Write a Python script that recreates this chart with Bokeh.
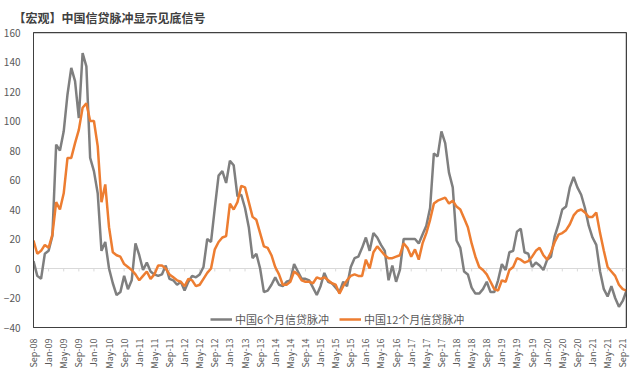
import math
from bokeh.plotting import figure
from bokeh.models import Range1d, FixedTicker, Span, Legend, LegendItem
from bokeh.embed import file_html
from bokeh.resources import INLINE

title_text = "【宏观】中国信贷脉冲显示见底信号"
series_names = ["中国6个月信贷脉冲", "中国12个月信贷脉冲"]

# monthly index: 0 = Sep-08 ... 157 = Oct-21
credit_6m = [
    5, -5, -7, 10, 12, 22, 84, 80, 93, 118, 136, 127, 102, 146, 137, 75, 66, 51, 12, 18,
    0, -10, -18, -16, -5, -14, -8, 17, 9, -1, 4, -2, -4, -5, -4, 2, -7, -8, -11, -9,
    -15, -9, -5, -6, -4, 1, 20, 18, 41, 63, 66, 58, 73, 70, 49, 50, 41, 28, 7, 10,
    0, -16, -15, -11, -6, -11, -12, -9, -8, 3, -2, -7, -7, -8, -13, -18, -12, -3, -9, -10,
    -13, -16, -9, -12, 1, 7, 8, 14, 21, 12, 24, 21, 16, 12, -8, 2, -9, -1, 20, 20,
    20, 20, 17, 23, 29, 41, 78, 76, 93, 85, 65, 55, 19, 14, -2, -4, -13, -17, -17, -14,
    -9, -16, -16, -8, 3, -1, 11, 12, 25, 27, 11, 10, 1, 4, 2, -1, 6, 8, 22, 30,
    40, 42, 55, 62, 55, 50, 41, 29, 21, 16, -2, -14, -19, -12, -20, -26, -22, -15,
]
credit_12m = [
    19, 10, 12, 16, 14, 23, 45, 40, 51, 75, 75, 85, 94, 109, 112, 100, 100, 83, 45, 57,
    28, 11, 9, 8, 3, 1, -1, -4, -8, -5, -2, -7, -4, 2, 2, 0, -4, -6, -8, -9,
    -12, -7, -8, -12, -11, -7, -3, 0, 13, 18, 21, 22, 44, 40, 45, 56, 55, 45, 35, 33,
    24, 15, 14, 9, 1, -4, -11, -11, -9, -2, -4, -8, -9, -9, -10, -6, -7, -6, -8, -10,
    -11, -17, -12, -8, -5, -4, -5, -5, 6, 0, 11, 15, 12, 9, 7, 7, 8, 9, 17, 14,
    8, 13, 6, 17, 24, 33, 44, 46, 47, 48, 44, 46, 42, 40, 34, 28, 17, 8, 1, -1,
    -4, -9, -14, -15, -8, -9, -1, 1, 7, 6, 4, 5, 8, 12, 14, 9, 6, 11, 18, 23,
    24, 26, 30, 36, 39, 40, 38, 35, 35, 38, 24, 12, 1, -2, -5, -11, -14, -15,
]
tick_labels = [
    "Sep-08",
    "Jan-09", "May-09", "Sep-09", "Jan-10", "May-10", "Sep-10",
    "Jan-11", "May-11", "Sep-11", "Jan-12", "May-12", "Sep-12",
    "Jan-13", "May-13", "Sep-13", "Jan-14", "May-14", "Sep-14",
    "Jan-15", "May-15", "Sep-15", "Jan-16", "May-16", "Sep-16",
    "Jan-17", "May-17", "Sep-17", "Jan-18", "May-18", "Sep-18",
    "Jan-19", "May-19", "Sep-19", "Jan-20", "May-20", "Sep-20",
    "Jan-21", "May-21", "Sep-21",
]
y_ticks = [-40, -20, 0, 20, 40, 60, 80, 100, 120, 140, 160]

months = list(range(len(credit_6m)))
tick_pos = [4 * k for k in range(len(tick_labels))]

FONT = "Noto Sans CJK SC"
TXT = "#595959"
FRAME = "#404040"

p = figure(frame_width=593, frame_height=295,
           min_border_left=26, min_border_right=5, min_border_top=24, min_border_bottom=38,
           x_range=Range1d(0, len(months) - 1), y_range=Range1d(y_ticks[0], y_ticks[-1]),
           output_backend="svg", toolbar_location=None, title=title_text)

p.title.text_font = FONT
p.title.text_font_size = "12px"
p.title.text_font_style = "bold"
p.title.text_color = "#404040"
p.title.offset = -20
p.title.standoff = 13

p.outline_line_color = FRAME
p.outline_line_alpha = 1.0
p.outline_line_width = 1
p.xgrid.visible = False
p.ygrid.visible = False
p.background_fill_color = "white"
p.border_fill_color = "white"

p.yaxis.ticker = FixedTicker(ticks=y_ticks)
p.yaxis.axis_line_color = FRAME
p.yaxis.major_tick_line_color = None
p.yaxis.minor_tick_line_color = None
p.yaxis.major_label_text_font = FONT
p.yaxis.major_label_text_font_size = "10px"
p.yaxis.major_label_text_color = TXT
p.yaxis.major_label_standoff = 7

p.xaxis.ticker = FixedTicker(ticks=tick_pos)
p.xaxis.major_label_overrides = {t: l for t, l in zip(tick_pos, tick_labels)}
p.xaxis.major_label_orientation = math.pi / 2
p.xaxis.axis_line_color = FRAME
p.xaxis.major_tick_line_color = None
p.xaxis.minor_tick_line_color = None
p.xaxis.major_label_text_font = FONT
p.xaxis.major_label_text_font_size = "9px"
p.xaxis.major_label_text_color = TXT
p.xaxis.major_label_standoff = 5

# frame edges (top and right)
p.add_layout(Span(location=y_ticks[-1], dimension="width", line_color=FRAME, line_width=1.5))
p.add_layout(Span(location=len(months) - 1, dimension="height", line_color=FRAME, line_width=1.5))

zero = Span(location=0, dimension="width", line_color="#d9d9d9", line_width=1, level="underlay")
p.add_layout(zero)
p.segment(x0=tick_pos, y0=[0] * len(tick_pos), x1=tick_pos, y1=[-2] * len(tick_pos),
          line_color="#d9d9d9", line_width=1)

r1 = p.line(months, credit_6m, line_color="#7F7F7F", line_width=2.5)
r2 = p.line(months, credit_12m, line_color="#ED7D31", line_width=2.5)

legend = Legend(items=[LegendItem(label=series_names[0], renderers=[r1]),
                       LegendItem(label=series_names[1], renderers=[r2])],
                orientation="horizontal", location=(177, 0),
                background_fill_alpha=0, border_line_color=None,
                label_text_font=FONT, label_text_font_size="11px", label_text_color=TXT,
                glyph_width=22, glyph_height=14, label_height=14, label_standoff=3,
                spacing=10, padding=0, margin=0)
p.add_layout(legend)

open("out.html", "w").write(file_html(p, INLINE))
